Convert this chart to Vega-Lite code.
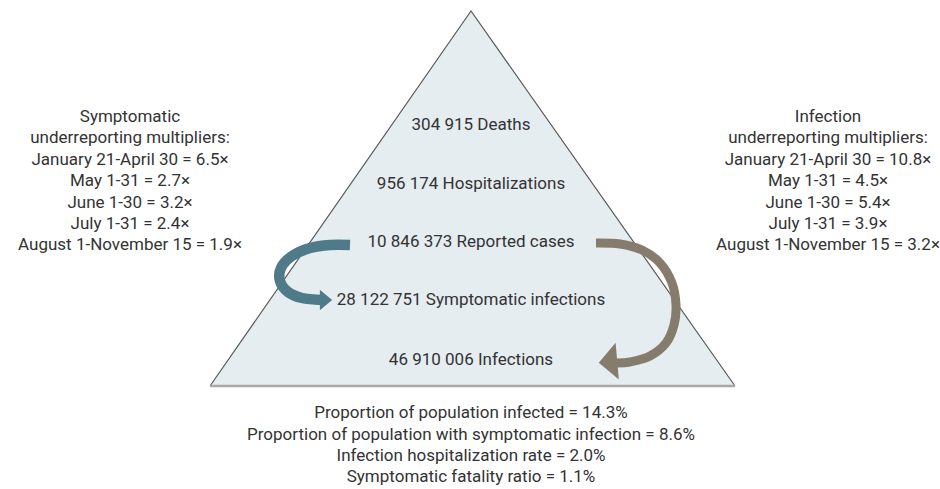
{
  "$schema": "https://vega.github.io/schema/vega-lite/v6.json",
  "width": 940,
  "height": 489,
  "padding": 0,
  "autosize": {"type": "fit", "contains": "padding"},
  "background": "white",
  "config": {"view": {"stroke": null}},
  "datasets": {
    "tri": [
      {"i": 0, "x": 210, "y": 386, "base": 386},
      {"i": 1, "x": 471, "y": 11, "base": 386},
      {"i": 2, "x": 735, "y": 386, "base": 386}
    ],
    "baseLine": [{"x": 210, "x2": 735, "y": 386}],
    "leftArrow": [
      {"i": 0, "x": 350, "y": 245},
      {"i": 1, "x": 330, "y": 245},
      {"i": 2, "x": 310, "y": 248},
      {"i": 3, "x": 292, "y": 256},
      {"i": 4, "x": 281, "y": 268},
      {"i": 5, "x": 280, "y": 281},
      {"i": 6, "x": 288, "y": 292},
      {"i": 7, "x": 302, "y": 298},
      {"i": 8, "x": 322, "y": 300}
    ],
    "leftHead": [{"x": 326, "y": 300}],
    "rightArrow": [
      {"i": 0, "x": 596, "y": 243},
      {"i": 1, "x": 620, "y": 244},
      {"i": 2, "x": 642, "y": 250},
      {"i": 3, "x": 660, "y": 263},
      {"i": 4, "x": 672, "y": 283},
      {"i": 5, "x": 676, "y": 305},
      {"i": 6, "x": 674, "y": 325},
      {"i": 7, "x": 666, "y": 343},
      {"i": 8, "x": 650, "y": 356},
      {"i": 9, "x": 630, "y": 362},
      {"i": 10, "x": 616, "y": 363}
    ],
    "rightHead": [{"x": 608, "y": 362}],
    "labels": [
      {"x": 471, "y": 125, "text": "304 915 Deaths"},
      {"x": 471, "y": 184, "text": "956 174 Hospitalizations"},
      {"x": 471, "y": 242, "text": "10 846 373 Reported cases"},
      {"x": 471, "y": 300, "text": "28 122 751 Symptomatic infections"},
      {"x": 471, "y": 360, "text": "46 910 006 Infections"},
      {"x": 130, "y": 117, "text": "Symptomatic"},
      {"x": 130, "y": 138, "text": "underreporting multipliers:"},
      {"x": 130, "y": 160, "text": "January 21-April 30 = 6.5×"},
      {"x": 130, "y": 181, "text": "May 1-31 = 2.7×"},
      {"x": 130, "y": 203, "text": "June 1-30 = 3.2×"},
      {"x": 130, "y": 224, "text": "July 1-31 = 2.4×"},
      {"x": 130, "y": 245, "text": "August 1-November 15 = 1.9×"},
      {"x": 828, "y": 117, "text": "Infection"},
      {"x": 828, "y": 138, "text": "underreporting multipliers:"},
      {"x": 828, "y": 160, "text": "January 21-April 30 = 10.8×"},
      {"x": 828, "y": 181, "text": "May 1-31 = 4.5×"},
      {"x": 828, "y": 203, "text": "June 1-30 = 5.4×"},
      {"x": 828, "y": 224, "text": "July 1-31 = 3.9×"},
      {"x": 828, "y": 245, "text": "August 1-November 15 = 3.2×"},
      {"x": 471, "y": 413, "text": "Proportion of population infected = 14.3%"},
      {"x": 471, "y": 435, "text": "Proportion of population with symptomatic infection = 8.6%"},
      {"x": 471, "y": 456, "text": "Infection hospitalization rate = 2.0%"},
      {"x": 471, "y": 477, "text": "Symptomatic fatality ratio = 1.1%"}
    ]
  },
  "encoding": {
    "x": {"field": "x", "type": "quantitative", "axis": null, "scale": {"domain": [0, 940], "nice": false, "zero": false}},
    "y": {"field": "y", "type": "quantitative", "axis": null, "scale": {"domain": [0, 489], "reverse": true, "nice": false, "zero": false}}
  },
  "layer": [
    {
      "data": {"name": "tri"},
      "mark": {"type": "area", "fill": "#e5edf1", "opacity": 1},
      "encoding": {"y2": {"field": "base"}}
    },
    {
      "data": {"name": "tri"},
      "mark": {"type": "line", "stroke": "#5a5a5a", "strokeWidth": 1.2},
      "encoding": {"order": {"field": "i", "type": "quantitative"}}
    },
    {
      "data": {"name": "baseLine"},
      "mark": {"type": "rule", "stroke": "#a8a8a8", "strokeWidth": 2.5},
      "encoding": {"x2": {"field": "x2"}}
    },
    {
      "data": {"name": "leftArrow"},
      "mark": {"type": "line", "stroke": "#4f7a8a", "strokeWidth": 10.5, "interpolate": "cardinal", "strokeCap": "butt"},
      "encoding": {"order": {"field": "i", "type": "quantitative"}}
    },
    {
      "data": {"name": "leftHead"},
      "mark": {"type": "point", "shape": "M 0.6 0 L -0.6 -1 L -0.6 1 Z", "filled": true, "fill": "#4f7a8a", "opacity": 1, "size": 420, "strokeWidth": 0}
    },
    {
      "data": {"name": "rightArrow"},
      "mark": {"type": "line", "stroke": "#867c6d", "strokeWidth": 9, "interpolate": "cardinal", "strokeCap": "butt"},
      "encoding": {"order": {"field": "i", "type": "quantitative"}}
    },
    {
      "data": {"name": "rightHead"},
      "mark": {"type": "point", "shape": "M -0.5 0 L 0.5 -1 L 0.5 1 Z", "filled": true, "fill": "#867c6d", "opacity": 1, "size": 1369, "strokeWidth": 0, "angle": -5}
    },
    {
      "data": {"name": "labels"},
      "mark": {"type": "text", "font": "Roboto", "fontSize": 17, "fill": "#333333", "align": "center", "baseline": "middle"},
      "encoding": {"text": {"field": "text"}}
    }
  ]
}
